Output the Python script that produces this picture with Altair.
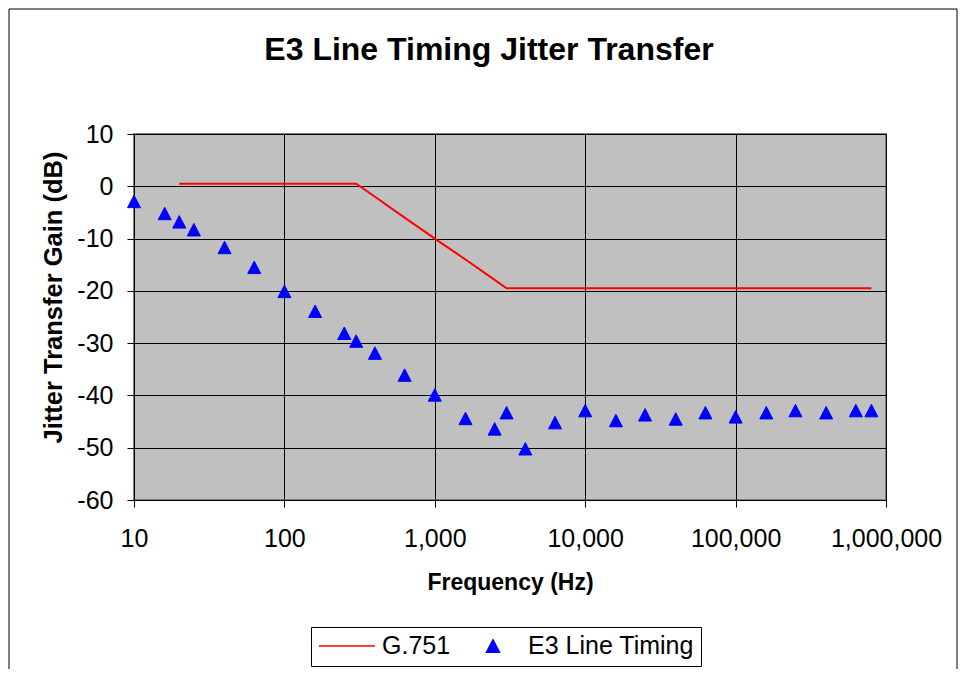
import altair as alt
import pandas as pd

# ---- data ----
series_names = ["G.751", "E3 Line Timing"]
series_colors = ["#FF0000", "#0000FF"]

freq_hz = [10, 16, 20, 25, 40, 63, 100, 160, 250, 300, 400, 630, 1000, 1600,
           2500, 3000, 4000, 6300, 10000, 16000, 25000, 40000, 63000, 100000,
           160000, 250000, 400000, 630000, 800000]
gain_db = [-2.9, -5.2, -6.8, -8.3, -11.7, -15.5, -20.1, -23.9, -28.1, -29.6,
           -31.9, -36.1, -39.9, -44.4, -46.4, -43.3, -50.2, -45.2, -42.9, -44.8,
           -43.7, -44.5, -43.3, -44.1, -43.3, -42.9, -43.3, -42.9, -42.9]

mask_freq_hz = [20, 300, 400, 630, 1000, 1600, 2500, 3000, 800000]
mask_gain_db = [0.5, 0.5, -2.0, -6.0, -10.0, -14.0, -17.9, -19.5, -19.5]

x_ticks = [10, 100, 1000, 10000, 100000, 1000000]
y_ticks = [-60, -50, -40, -30, -20, -10, 0, 10]

meas = pd.DataFrame({"freq": freq_hz, "gain": gain_db, "series": series_names[1]})
mask = pd.DataFrame({"freq": mask_freq_hz, "gain": mask_gain_db, "series": series_names[0]})

FONT = "Liberation Sans"
# marker shapes: a legend line for the mask, a small filled triangle for the measurements
TRIANGLE = "M0,-0.223L-0.232,0.223L0.232,0.223Z"
MARK_SIZE = 3136

x_enc = alt.X(
    "freq:Q",
    scale=alt.Scale(type="log", domain=[10, 1000000], nice=False),
    axis=alt.Axis(values=x_ticks, format=",", title="Frequency (Hz)",
                  labelPadding=19, titlePadding=20, titleFontSize=23,
                  labelFlush=False, labelOverlap=False, labelBound=False),
)
y_enc = alt.Y(
    "gain:Q",
    scale=alt.Scale(domain=[-60, 10], nice=False, zero=False),
    axis=alt.Axis(values=y_ticks, title="Jitter Transfer Gain (dB)",
                  labelExpr="'' + datum.value",
                  labelPadding=14, titlePadding=10, titleFontSize=25.5, titleY=163,
                  labelFlush=False, labelOverlap=False, labelBound=False),
)

frame = alt.Chart(alt.Data(values=[{"f": 1}])).mark_rect(
    fillOpacity=0, stroke="black", strokeWidth=1
).encode(
    x=alt.value(-125), x2=alt.value(823), y=alt.value(-125), y2=alt.value(700)
)

line = alt.Chart(mask).mark_line(color=series_colors[0], strokeWidth=2).encode(
    x=x_enc, y=y_enc
)

legend = alt.Legend(
    title=None,
    orient="none",
    legendX=177,
    legendY=493,
    direction="horizontal",
    strokeColor="black",
    fillColor="white",
    padding=7,
    cornerRadius=0,
    labelFont=FONT,
    labelFontSize=25,
    labelColor="black",
    labelOffset=6,
    labelLimit=400,
    columnPadding=13,
    clipHeight=24,
    symbolOpacity=1,
    symbolStrokeWidth=1.5,
    symbolSize=MARK_SIZE,
)

pts = alt.Chart(meas).mark_point(filled=True, opacity=1, strokeWidth=1, size=MARK_SIZE).encode(
    x=x_enc,
    y=y_enc,
    color=alt.Color("series:N", scale=alt.Scale(domain=series_names, range=series_colors),
                    legend=legend),
    stroke=alt.Stroke("series:N", scale=alt.Scale(domain=series_names, range=series_colors),
                      legend=legend),
    shape=alt.Shape("series:N", scale=alt.Scale(domain=series_names,
                                                range=["stroke", TRIANGLE]),
                    legend=legend),
)

chart = alt.layer(frame, line, pts).properties(
    width=752,
    height=366,
    background="white",
    padding={"left": 126, "top": 126, "right": 72, "bottom": 169},
    autosize=alt.AutoSizeParams(type="none"),
    title=alt.TitleParams(
        "E3 Line Timing Jitter Transfer",
        font=FONT, fontSize=32, fontWeight="bold", color="black", dx=-21, offset=-58,
    ),
).configure_view(
    fill="#C0C0C0", stroke="#808080", strokeWidth=2
).configure_axis(
    domainColor="black", domainWidth=1, tickColor="black", tickSize=7, tickWidth=1,
    grid=True, gridColor="black", gridOpacity=1, gridWidth=1,
    labelFont=FONT, labelFontSize=25, labelColor="black",
    titleFont=FONT, titleFontWeight="bold", titleColor="black",
)

chart.save("out.html", embed_options={"renderer": "svg", "actions": False})
